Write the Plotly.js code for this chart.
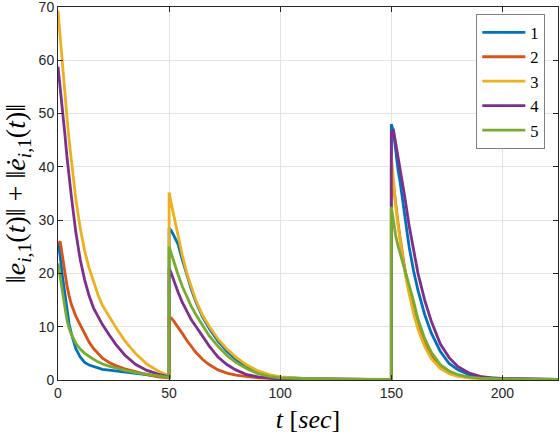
<!DOCTYPE html>
<html>
<head>
<meta charset="utf-8">
<script src="https://cdn.plot.ly/plotly-3.0.1.min.js"></script>
<style>html,body{margin:0;padding:0;background:#fff;}#chart{width:560px;height:436px;}</style>
</head>
<body>
<div id="chart"></div>
<script>
// time samples (sec); duplicated 50 and 150 mark the jumps
const t = [0,1,2,3,4,5,6,8,10,12,14,16,18,20,23,26,30,35,40,45,50,
           50,51,52,54,56,58,60,62,65,68,72,76,80,85,90,95,100,110,120,130,140,150,
           150,151,152,153,154,156,158,160,162,165,168,172,176,180,185,190,195,200,210,225];

const series1 = [25.8,23.2,19.5,16.2,13.3,10.5,8.7,5.9,4.3,3.3,2.8,2.5,2.2,2.0,1.85,1.7,1.5,1.2,0.9,0.7,0.5,
                 28.5,28,27.2,25.5,22.5,19.5,17,14.7,11.9,9.7,7.3,5.4,3.9,2.5,1.5,0.9,0.5,0.3,0.2,0.15,0.1,0.1,
                 48,46.5,42.5,39.5,37,30.5,25,20.5,16.8,12.3,8.8,5.4,3.1,1.9,1,0.55,0.35,0.25,0.15,0.1];
const series2 = [25.5,26,23.3,20.2,17.8,15.8,14.2,12,10.4,8.6,7.1,5.9,4.9,4.1,3.3,2.7,2.1,1.5,1.0,0.6,0.4,
                 11.8,11.6,11.1,10,8.7,7.4,6.2,5.2,3.9,2.9,1.9,1.3,0.9,0.6,0.4,0.3,0.2,0.15,0.1,0.1,0.1,0.1,
                 40,36.5,32.5,29.5,26.5,21,16.8,13.2,10.2,6.9,4.5,2.5,1.4,0.8,0.45,0.3,0.2,0.15,0.1,0.1];
const series3 = [69.3,64,59,54,49.5,45,41,34,28.5,24.2,21,18.3,16,14,11.9,9.9,7.4,4.9,3.0,1.7,0.8,
                 35.2,33,31,27,23.3,20,17.3,15,12.2,10.1,7.7,5.8,4.3,2.8,1.7,1.0,0.6,0.3,0.2,0.15,0.1,0.1,
                 42,37,32.5,29,26,20.5,16.2,12.5,9.5,6.3,4,2.2,1.2,0.7,0.4,0.3,0.2,0.15,0.1,0.1];
const series4 = [58.8,55,51,46.5,42,38,34.5,27.8,22.6,18.8,15.8,13.5,11.8,10.4,8.5,6.7,4.7,2.9,1.8,1.1,0.6,
                 21,20,18.8,16.5,14.5,12.8,11.3,10.1,8.2,6.4,4.3,2.9,1.9,1.0,0.6,0.35,0.2,0.15,0.1,0.1,0.1,0.1,
                 46.5,46.8,44.5,42,39.5,34.5,29,24.3,20,15,11,6.8,4.2,2.5,1.3,0.7,0.4,0.3,0.2,0.1];
const series5 = [21.9,19.3,16.2,13.6,11.3,9.7,8.6,6.9,5.8,5.0,4.4,3.9,3.4,3.0,2.6,2.2,1.8,1.4,1.1,0.8,0.5,
                 25,23.6,22.3,19.8,17.5,15.5,13.8,12.3,10.2,8.3,6.3,4.6,3.3,2.1,1.2,0.7,0.4,0.25,0.15,0.1,0.1,0.1,
                 32.5,29.5,27,25.2,23.8,21,17.8,14.8,11.4,7.8,5.2,2.9,1.7,1.0,0.55,0.35,0.25,0.2,0.15,0.1];

const names = ['1','2','3','4','5'];
const colors = ['#0072BD','#D95319','#EDB120','#7E2F8E','#77AC30'];
const allSeries = [series1, series2, series3, series4, series5];
const xTicks = [0,50,100,150,200];
const yTicks = [0,10,20,30,40,50,60,70];

const traces = allSeries.map((ys, i) => ({
  x: t, y: ys, type: 'scatter', mode: 'lines', name: names[i],
  line: {color: colors[i], width: 2.8}
}));

const axisCommon = {
  showline: true, linecolor: '#262626', linewidth: 1, mirror: 'ticks',
  ticks: 'inside', ticklen: 5, tickcolor: '#262626', tickwidth: 1,
  showgrid: true, gridcolor: '#e3e3e3', gridwidth: 1, zeroline: false,
  ticklabeloverflow: 'allow',
  tickfont: {family: 'Liberation Sans, Arial, sans-serif', size: 14, color: '#262626'}
};

const layout = {
  width: 560, height: 436,
  margin: {l: 58, r: 2, t: 7, b: 56},
  paper_bgcolor: '#ffffff', plot_bgcolor: '#ffffff',
  showlegend: true,
  xaxis: Object.assign({}, axisCommon, {
    range: [0, 225], tickvals: xTicks, ticktext: xTicks.map(String),
    title: {text: '<i>t</i> [<i>sec</i>]', standoff: 10,
            font: {family: 'Liberation Serif, DejaVu Serif, serif', size: 26, color: '#000'}}
  }),
  yaxis: Object.assign({}, axisCommon, {
    range: [0, 70], tickvals: yTicks, ticktext: yTicks.map(String),
    title: {text: '‖<i>e</i><sub><i>i</i>,1</sub>(<i>t</i>)‖ + ‖<i>ė</i><sub><i>i</i>,1</sub>(<i>t</i>)‖', standoff: 14,
            font: {family: 'Liberation Serif, DejaVu Serif, serif', size: 28, color: '#000'}}
  }),
  legend: {
    x: 0.9746, xanchor: 'right', y: 0.981, yanchor: 'top',
    bgcolor: '#ffffff', bordercolor: '#7f7f7f', borderwidth: 1,
    font: {family: 'Liberation Serif, DejaVu Serif, serif', size: 16.5, color: '#000'},
    tracegroupgap: 0, itemwidth: 43
  }
};

Plotly.newPlot('chart', traces, layout, {displayModeBar: false, staticPlot: true});
</script>
</body>
</html>
